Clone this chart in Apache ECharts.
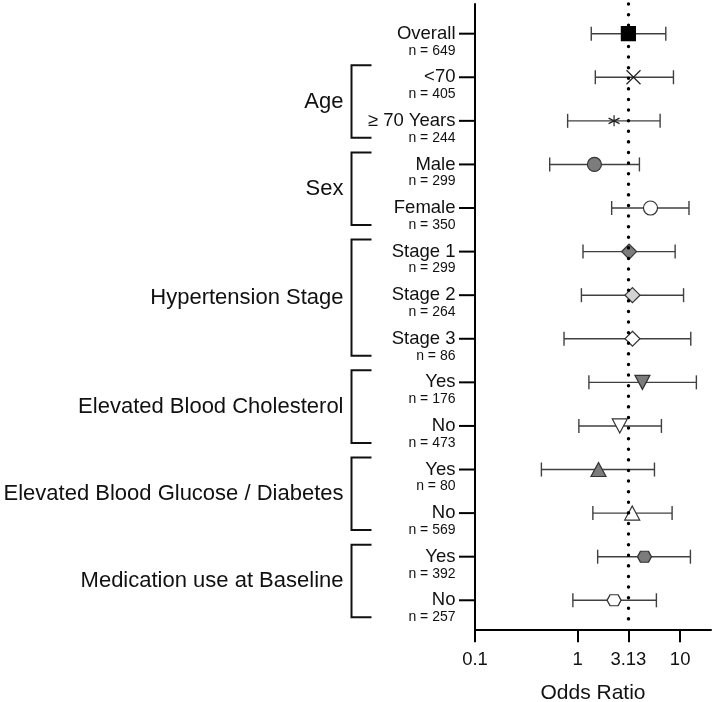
<!DOCTYPE html>
<html><head><meta charset="utf-8">
<script src="https://cdn.jsdelivr.net/npm/echarts@6/dist/echarts.min.js"></script>
<style>html,body{margin:0;padding:0;background:#fff}#chart{width:715px;height:702px}</style>
</head><body><div id="chart"></div>
<script>
// ---- data ----
const categories = ['Overall', '<70', '≥ 70 Years', 'Male', 'Female', 'Stage 1', 'Stage 2', 'Stage 3', 'Yes', 'No', 'Yes', 'No', 'Yes', 'No'];
const nCounts = [649, 405, 244, 299, 350, 299, 264, 86, 176, 473, 80, 569, 392, 257];
const oddsRatio = [3.13, 3.51, 2.27, 1.46, 5.14, 3.18, 3.43, 3.43, 4.29, 2.58, 1.60, 3.41, 4.49, 2.27];
const ciLow = [1.36, 1.49, 0.80, 0.535, 2.15, 1.13, 1.09, 0.738, 1.29, 1.03, 0.444, 1.41, 1.57, 0.90];
const ciHigh = [7.25, 8.61, 6.38, 4.01, 12.2, 8.94, 10.8, 12.7, 14.4, 6.57, 5.62, 8.35, 12.6, 5.87];
const groups = ['Age', 'Sex', 'Hypertension Stage', 'Elevated Blood Cholesterol', 'Elevated Blood Glucose / Diabetes', 'Medication use at Baseline'];
const groupStart = [1, 3, 5, 8, 10, 12];
const groupEnd = [2, 4, 7, 9, 11, 13];
const refValue = 3.13;
const xTicks = [0.1, 1, 3.13, 10];

// ---- styles ----
const FONT = '"Liberation Sans", Arial, Helvetica, sans-serif';
const DARK = '#7c7c7c', LIGHT = '#d3d3d3', WHITE = '#ffffff';
const TRI_DOWN = 'path://M0,0L14,0L7,13Z';
const HEX = 'path://M0,5L3,0L11,0L14,5L11,10L3,10Z';
const markerStyles = [
  {symbol: 'rect', size: 14, fill: '#000', stroke: '#000'},
  {symbol: 'path://M0,0L10,10M10,0L0,10', size: 14, fill: 'transparent', stroke: '#222'},
  {symbol: 'path://M5,0L5,10M0.67,2.5L9.33,7.5M9.33,2.5L0.67,7.5', size: 11, fill: 'transparent', stroke: '#222'},
  {symbol: 'circle', size: 14, fill: DARK, stroke: '#333'},
  {symbol: 'circle', size: 14, fill: WHITE, stroke: '#333'},
  {symbol: 'diamond', size: 15, fill: DARK, stroke: '#333'},
  {symbol: 'diamond', size: 15, fill: LIGHT, stroke: '#333'},
  {symbol: 'diamond', size: 15, fill: WHITE, stroke: '#333'},
  {symbol: TRI_DOWN, size: [15, 14], fill: DARK, stroke: '#333'},
  {symbol: TRI_DOWN, size: [15, 14], fill: WHITE, stroke: '#333'},
  {symbol: 'triangle', size: [15, 14], fill: DARK, stroke: '#333'},
  {symbol: 'triangle', size: [15, 14], fill: WHITE, stroke: '#333'},
  {symbol: HEX, size: [14, 11], fill: DARK, stroke: '#333'},
  {symbol: HEX, size: [14, 11], fill: WHITE, stroke: '#333'}
];

const rowIdx = categories.map((_, i) => i);
const chart = echarts.init(document.getElementById('chart'), null, {renderer: 'canvas'});

const option = {
  animation: false,
  backgroundColor: '#fff',
  grid: {left: 475, right: 4, top: 4, bottom: 72.7, containLabel: false, outerBoundsMode: 'none'},
  xAxis: {
    type: 'log', logBase: 10, min: 0.1, max: 20,
    splitLine: {show: false},
    axisLine: {show: true, onZero: false, lineStyle: {color: '#000', width: 2}},
    axisTick: {show: true, customValues: xTicks, length: 13, lineStyle: {color: '#000', width: 2}},
    axisLabel: {customValues: xTicks, margin: 21, fontSize: 18.5, color: '#111', fontFamily: FONT,
      formatter: v => String(+Number(v).toPrecision(3))},
    name: 'Odds Ratio', nameLocation: 'middle', nameGap: 53,
    nameTextStyle: {fontSize: 21, color: '#111', fontFamily: FONT}
  },
  yAxis: {
    type: 'value', inverse: true, min: -0.681, max: 13.666,
    splitLine: {show: false},
    axisLine: {show: true, onZero: false, lineStyle: {color: '#000', width: 2}},
    axisTick: {show: false},
    axisLabel: {show: false}
  },
  series: [
    {
      // row ticks and row labels, positioned through the y axis scale
      type: 'custom', z: 3,
      data: rowIdx.map(i => [refValue, i]),
      encode: {x: 0, y: 1},
      renderItem(params, api) {
        const i = params.dataIndex;
        const y = api.coord([refValue, api.value(1)])[1];
        const left = params.coordSys.x;
        return {type: 'group', children: [
          {type: 'line', shape: {x1: left - 16, y1: y, x2: left, y2: y}, style: {stroke: '#000', lineWidth: 2}},
          {type: 'text', x: left - 19.5, y: y, style: {text: categories[i], fontSize: 18.5, fontFamily: FONT,
            fill: '#111', align: 'right', verticalAlign: 'middle'}},
          {type: 'text', x: left - 19.5, y: y + 17, style: {text: 'n = ' + nCounts[i], fontSize: 14, fontFamily: FONT,
            fill: '#111', align: 'right', verticalAlign: 'middle'}}
        ]};
      }
    },
    {
      type: 'custom', z: 2,
      data: rowIdx.map(i => [ciLow[i], ciHigh[i], i]),
      encode: {x: [0, 1], y: 2},
      renderItem(params, api) {
        const y = api.value(2);
        const p1 = api.coord([api.value(0), y]);
        const p2 = api.coord([api.value(1), y]);
        const h = 7;
        const st = {stroke: '#404040', lineWidth: 1.4};
        return {type: 'group', children: [
          {type: 'line', shape: {x1: p1[0], y1: p1[1], x2: p2[0], y2: p2[1]}, style: st},
          {type: 'line', shape: {x1: p1[0], y1: p1[1] - h, x2: p1[0], y2: p1[1] + h}, style: st},
          {type: 'line', shape: {x1: p2[0], y1: p2[1] - h, x2: p2[0], y2: p2[1] + h}, style: st}
        ]};
      }
    },
    {
      type: 'scatter', z: 10,
      data: rowIdx.map(i => ({
        value: [oddsRatio[i], i],
        symbol: markerStyles[i].symbol,
        symbolSize: markerStyles[i].size,
        itemStyle: {color: markerStyles[i].fill, borderColor: markerStyles[i].stroke, borderWidth: 1.2, opacity: 1}
      }))
    },
    {
      // dotted reference line, drawn above the markers
      type: 'line', z: 20, data: [], silent: true,
      markLine: {
        silent: true, z: 20, symbol: ['none', 'none'], label: {show: false},
        lineStyle: {color: '#000', width: 3.4, type: [0.1, 10.5], cap: 'round'},
        data: [{xAxis: refValue}]
      }
    },
    {
      type: 'custom', z: 3,
      data: groups.map((g, i) => [refValue, groupStart[i], groupEnd[i]]),
      encode: {x: 0, y: [1, 2]},
      renderItem(params, api) {
        const top = api.coord([refValue, api.value(1)])[1] - 12;
        const bot = api.coord([refValue, api.value(2)])[1] + 17;
        const left = params.coordSys.x;
        const xV = left - 123.5, xA = left - 103.5;
        return {type: 'group', children: [
          {type: 'polyline', shape: {points: [[xA, top], [xV, top], [xV, bot], [xA, bot]]},
            style: {stroke: '#111', lineWidth: 2, fill: null}},
          {type: 'text', x: xV - 8, y: (top + bot) / 2,
            style: {text: groups[params.dataIndex], fontSize: 22, fontFamily: FONT, fill: '#111',
              align: 'right', verticalAlign: 'middle'}}
        ]};
      }
    }
  ]
};
chart.setOption(option);
</script>
</body></html>
